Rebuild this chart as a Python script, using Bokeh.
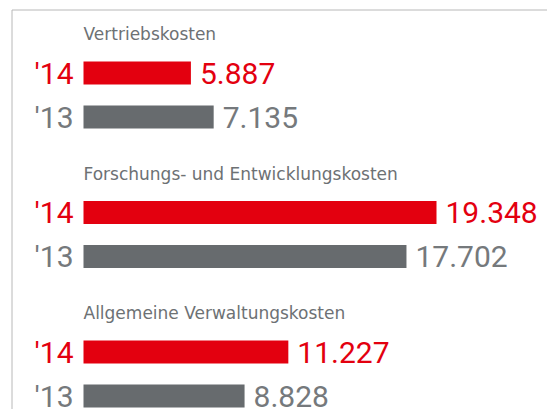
from bokeh.plotting import figure
from bokeh.models import Range1d, ColumnDataSource
from bokeh.core.properties import value
from bokeh.embed import file_html
from bokeh.resources import INLINE

# ---- data ----
groups = ["Vertriebskosten", "Forschungs- und Entwicklungskosten", "Allgemeine Verwaltungskosten"]
years = ["'14", "'13"]
values_14 = [5887, 19348, 11227]
values_13 = [7135, 17702, 8828]
labels_14 = ["5.887", "19.348", "11.227"]
labels_13 = ["7.135", "17.702", "8.828"]

RED = "#e3000f"
GREY_BAR = "#676b6e"
GREY_TXT = "#75797c"
TITLE_TXT = "#6d7174"
NUM_FONT = "Roboto"
TITLE_FONT = "DejaVu Sans"
NUM_SIZE = 30
TITLE_SIZE = 17

W, H = 547, 409
scale = 353.0 / 19348.0          # px per unit
zero_px = 83.0                    # px of value 0
x0 = -zero_px / scale
x1 = (W - zero_px) / scale

pitch = 139.5
bar_h = 23
title_base = 40
bar14_c = 72.5
bar13_c = 116.5
shift = 0.38                      # baseline correction (em)

p = figure(width=W, height=H, output_backend="svg", toolbar_location=None,
           x_range=Range1d(x0, x1), y_range=Range1d(H, 0),
           min_border=0, min_border_left=0, min_border_right=0,
           min_border_top=0, min_border_bottom=0)
p.axis.visible = False
p.grid.visible = False
p.outline_line_color = None
p.background_fill_color = "white"
p.border_fill_color = "white"

def px_x(px):
    return x0 + px / scale

# frame lines (left and top)
p.segment(x0=[px_x(11.5), px_x(11.5)], y0=[9.5, 9.5], x1=[x1, px_x(11.5)], y1=[9.5, H],
          line_color="#b8b8b8", line_width=1)

ys14 = [bar14_c + i * pitch for i in range(3)]
ys13 = [bar13_c + i * pitch for i in range(3)]
yt = [title_base + i * pitch - shift * TITLE_SIZE for i in range(3)]

src14 = ColumnDataSource(dict(v=values_14, y=ys14,
                              yb=[y + bar_h / 2 - shift * NUM_SIZE for y in ys14],
                              lab=labels_14, yr=[years[0]] * 3, z=[0] * 3))
src13 = ColumnDataSource(dict(v=values_13, y=ys13,
                              yb=[y + bar_h / 2 - shift * NUM_SIZE for y in ys13],
                              lab=labels_13, yr=[years[1]] * 3, z=[0] * 3))
srct = ColumnDataSource(dict(t=groups, y=yt, z=[0] * 3))

p.hbar(y="y", left=0, right="v", height=bar_h, source=src14, fill_color=RED, line_color=None)
p.hbar(y="y", left=0, right="v", height=bar_h, source=src13, fill_color=GREY_BAR, line_color=None)

# titles
p.text(x="z", y="y", text="t", source=srct, text_font=value(TITLE_FONT),
       text_font_size=f"{TITLE_SIZE}px", text_color=TITLE_TXT, text_align="left",
       text_baseline="alphabetic")

# value labels
p.text(x="v", y="yb", text="lab", source=src14, x_offset=9, text_font=value(NUM_FONT),
       text_font_size=f"{NUM_SIZE}px", text_color=RED, text_align="left", text_baseline="alphabetic")
p.text(x="v", y="yb", text="lab", source=src13, x_offset=9, text_font=value(NUM_FONT),
       text_font_size=f"{NUM_SIZE}px", text_color=GREY_TXT, text_align="left", text_baseline="alphabetic")

# year labels
p.text(x="z", y="yb", text="yr", source=src14, x_offset=-10, text_font=value(NUM_FONT),
       text_font_size=f"{NUM_SIZE}px", text_color=RED, text_align="right", text_baseline="alphabetic")
p.text(x="z", y="yb", text="yr", source=src13, x_offset=-10, text_font=value(NUM_FONT),
       text_font_size=f"{NUM_SIZE}px", text_color=GREY_TXT, text_align="right", text_baseline="alphabetic")

open("out.html", "w").write(file_html(p, INLINE))
